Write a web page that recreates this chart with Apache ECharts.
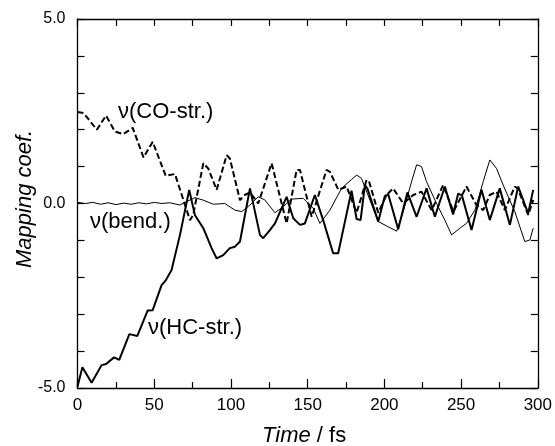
<!DOCTYPE html>
<html>
<head>
<meta charset="utf-8">
<script src="https://cdn.jsdelivr.net/npm/echarts@6/dist/echarts.min.js"></script>
<style>html,body{margin:0;padding:0;background:#fff;}#c{width:555px;height:446px;}</style>
</head>
<body>
<div id="c"></div>
<script>
// ---- data (time in fs, mapping coefficient) ----
var hcTime = [0,3.2,9.2,15.7,18.6,23.8,27.2,33.8,39,45.7,49,54.8,57.4,61.3,66.8,72.8,76.5,82,87.4,90.7,95,99.3,102.6,105.9,112.4,118.9,121,125.4,128.7,136.3,140.6,145,148.2,154.7,160.1,166.6,169.9,178.6,181.9,184.5,187.3,189,196,200.3,202.5,209,215,221,227.5,232.9,239.4,244.8,248.1,250.5,256.8,263.3,268.7,275.2,281.8,287.2,293.7,297];
var hcVal  = [-4.96,-4.44,-4.86,-4.38,-4.35,-4.17,-4.24,-3.54,-3.59,-2.9,-2.89,-2.21,-2.09,-1.8,-0.85,0.37,-0.31,-0.67,-1.21,-1.49,-1.4,-1.21,-1.17,-1.03,0.41,-0.85,-0.94,-0.72,-0.54,0.18,-0.4,-0.58,-0.54,0.23,-0.45,-1.35,-1.35,0.35,-0.42,-0.45,0.5,0.4,-0.49,0.2,0.25,-0.7,0.3,-0.36,0.41,-0.36,0.46,-0.3,0.27,0.22,-0.72,0.37,-0.45,0.41,-0.58,0.46,-0.27,0.37];

var coTime = [0,4,12.6,18.6,24.4,29.8,36,43,49,57.5,63.5,73.3,75.4,82,85.2,90.7,97.2,99.3,105.9,109,112.4,117.8,126.5,136.3,142.8,145,152.6,162.3,164.5,170,175.4,181.9,188.4,190,196,201.4,205.7,212.3,218.8,224.2,230.8,238.3,245,253.5,260,264.4,268.7,273.1,278.5,285,287,293.7,297];
var coVal  = [2.48,2.45,2.0,2.38,1.95,1.88,2.05,1.25,1.67,0.75,0.8,-0.45,-0.31,1.09,0.95,0.37,1.31,1.22,0.09,0.23,0.3,0.0,1.09,-0.54,0.91,0.91,-0.36,0.91,0.86,0.37,0.46,-0.25,0.64,0.6,-0.25,0.23,0.41,0.0,0.23,0.32,-0.18,0.5,-0.22,0.46,-0.04,-0.18,0.23,0.32,-0.18,0.46,0.4,-0.31,0.1];

var bdTime = [0,5,10,15,20,25,30,35,40,45,50,55,60,66.8,71.1,76.5,82,88.5,96,102.6,107,112.4,117.8,122,128.7,134,139.5,147.1,153.6,158,164.5,172.1,178.6,182,185.1,196,202.5,208,212.3,217.7,221,224.2,227.5,234,239.4,243.8,249.2,253.5,259,264.4,268.7,273.1,277.4,285,291.5,294.8,297];
var bdVal  = [0.03,0.0,0.03,-0.02,0.02,-0.03,0.01,-0.02,0.02,-0.01,0.03,0.0,0.02,-0.04,0.05,0.16,0.09,-0.02,0.0,-0.18,-0.22,-0.04,0.18,0.1,-0.25,-0.09,0.12,0.14,-0.13,-0.54,-0.18,0.41,0.65,0.77,0.68,-0.49,-0.63,-0.75,-0.22,0.59,1.05,1.0,0.59,0.0,-0.45,-0.85,-0.67,-0.54,-0.18,0.59,1.18,0.95,0.5,-0.22,-1.03,-0.99,-0.67];

var xTicks = [0,50,100,150,200,250,300];
var yTicks = [-5,0,5];

function pairs(t, v){ var out=[]; for (var i=0;i<t.length;i++) out.push([t[i], v[i]]); return out; }

var FONT = '"Liberation Sans", Arial, Helvetica, sans-serif';
var chart = echarts.init(document.getElementById('c'), null, {renderer:'canvas'});
var axisLine = {show:true, onZero:false, lineStyle:{color:'#000', width:1.3}};
var tickStyle = {color:'#000', width:1.2};
chart.setOption({
  animation:false,
  backgroundColor:'#fff',
  grid:{left:77.5, right:17, top:19, bottom:58, containLabel:false},
  xAxis:[{
    type:'value', min:xTicks[0], max:xTicks[xTicks.length-1], interval:50, position:'bottom',
    axisLine:axisLine,
    axisTick:{show:true, inside:true, length:9, lineStyle:tickStyle},
    minorTick:{show:true, splitNumber:2, length:6, lineStyle:tickStyle},
    splitLine:{show:false},
    axisLabel:{color:'#000', fontSize:17, fontFamily:FONT, margin:9}
  },{
    type:'value', min:0, max:300, interval:50, position:'top',
    axisLine:axisLine,
    axisTick:{show:true, inside:true, length:7, lineStyle:tickStyle},
    minorTick:{show:true, splitNumber:2, length:7, lineStyle:tickStyle},
    splitLine:{show:false}, axisLabel:{show:false}
  }],
  yAxis:[{
    type:'value', min:yTicks[0], max:yTicks[yTicks.length-1], interval:5, position:'left',
    axisLine:axisLine,
    axisTick:{show:true, inside:true, length:7, lineStyle:tickStyle},
    minorTick:{show:true, splitNumber:5, length:7, lineStyle:tickStyle},
    splitLine:{show:false},
    axisLabel:{color:'#000', fontSize:16, fontFamily:FONT, margin:12, formatter:function(v){return v.toFixed(1);}}
  },{
    type:'value', min:-5, max:5, interval:5, position:'right',
    axisLine:axisLine,
    axisTick:{show:true, inside:true, length:7, lineStyle:tickStyle},
    minorTick:{show:true, splitNumber:5, length:7, lineStyle:tickStyle},
    splitLine:{show:false}, axisLabel:{show:false}
  }],
  series:[
    {type:'line', name:'bend', data:pairs(bdTime,bdVal), showSymbol:false, symbol:'none',
     lineStyle:{color:'#000', width:1}},
    {type:'line', name:'CO-str', data:pairs(coTime,coVal), showSymbol:false, symbol:'none',
     lineStyle:{color:'#000', width:2, type:[6,3]}},
    {type:'line', name:'HC-str', data:pairs(hcTime,hcVal), showSymbol:false, symbol:'none',
     lineStyle:{color:'#000', width:2}}
  ],
  graphic:[
    {type:'text', left:118, top:101, style:{text:'\u03bd(CO-str.)', fill:'#000', font:'22px '+FONT}},
    {type:'text', left:90, top:211, style:{text:'\u03bd(bend.)', fill:'#000', font:'22px '+FONT}},
    {type:'text', left:148, top:317, style:{text:'\u03bd(HC-str.)', fill:'#000', font:'22px '+FONT}},
    {type:'text', x:262, y:425, style:{text:'{i|Time} / fs', fill:'#000', font:'22px '+FONT,
       rich:{i:{fontStyle:'italic', fontSize:22, fontFamily:FONT}}}},
    {type:'text', x:14, y:268, rotation:Math.PI/2, style:{text:'Mapping coef.', fill:'#000', font:'italic 22px '+FONT}}
  ]
});
</script>
</body>
</html>
